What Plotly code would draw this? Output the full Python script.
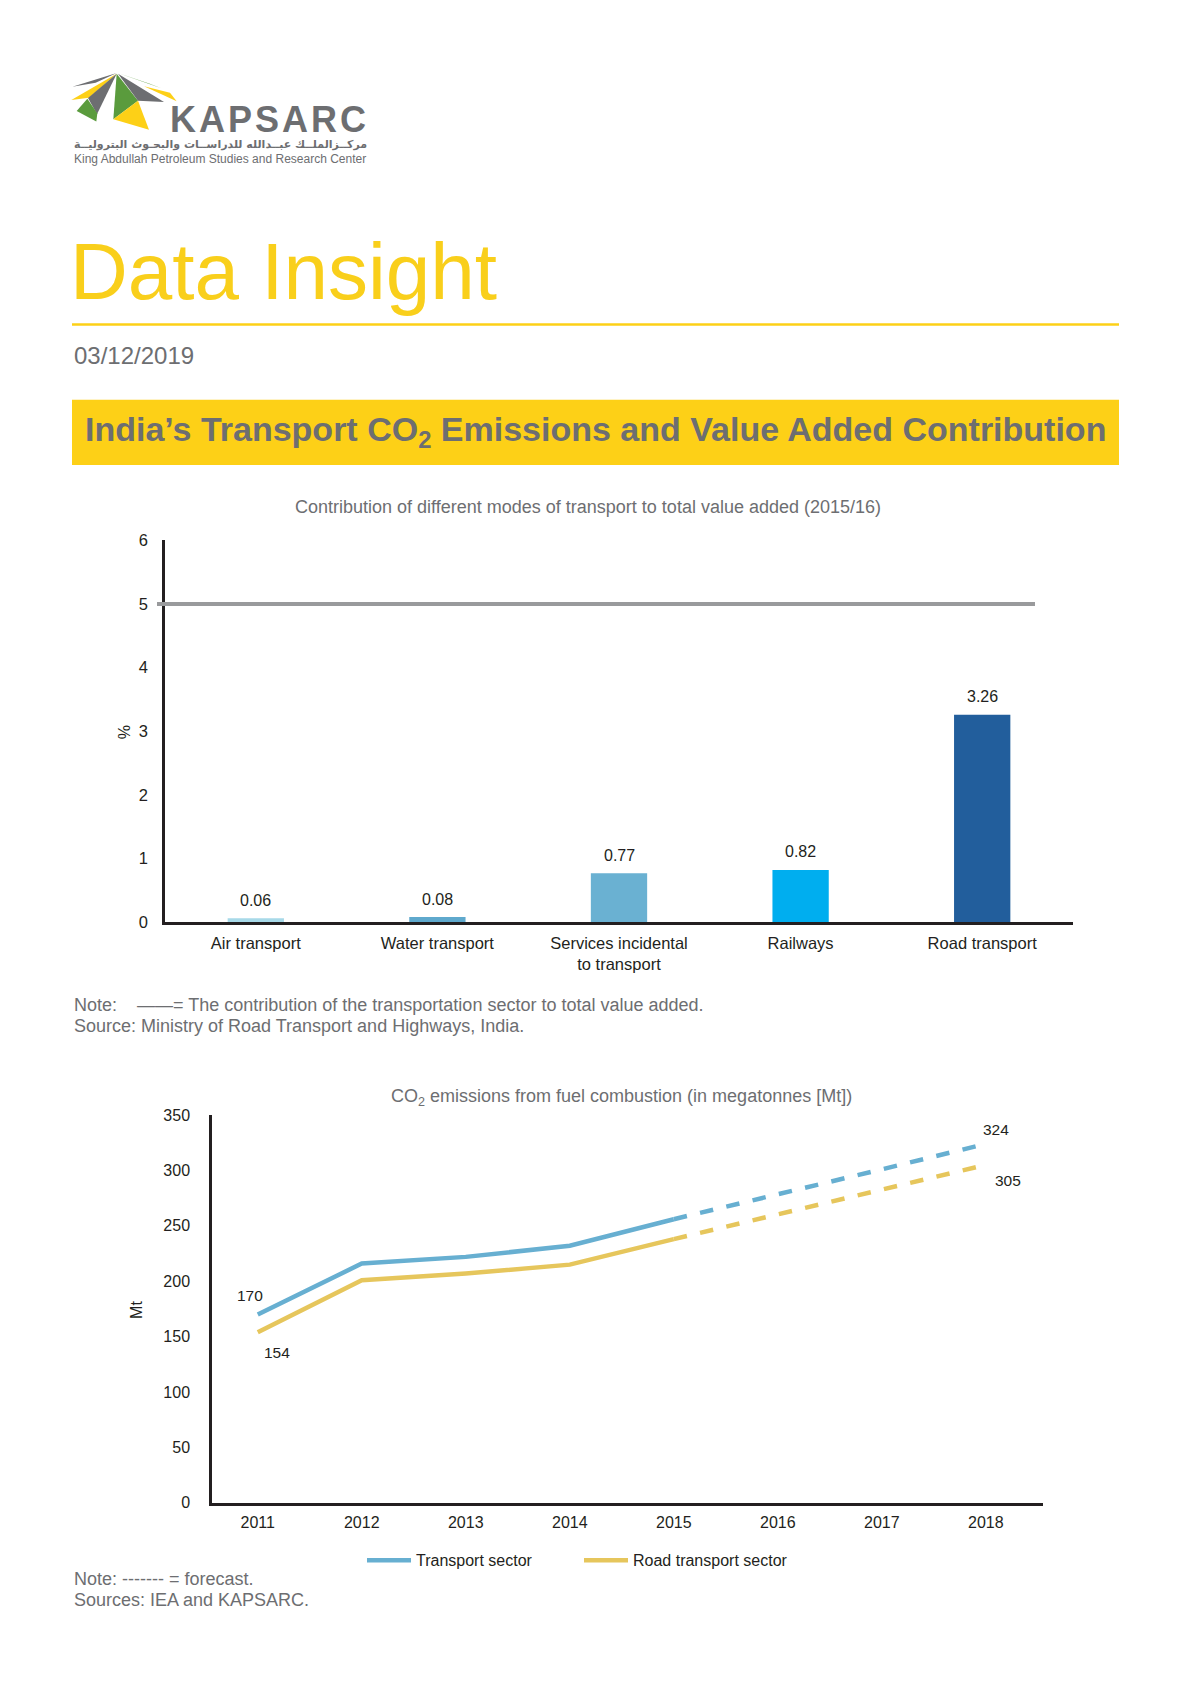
import plotly.graph_objects as go

W, H = 1191, 1684

# top chart data: share of total value added (%), 2015/16
modes = ["Air transport", "Water transport", "Services incidental<br>to transport", "Railways", "Road transport"]
share = [0.06, 0.08, 0.77, 0.82, 3.26]
bar_colors = ["#a7d9e8", "#5fa9cd", "#6ab1d2", "#00aeef", "#225e9c"]
sector_share = 5.0

# bottom chart data: CO2 emissions (Mt)
years = [2011, 2012, 2013, 2014, 2015, 2016, 2017, 2018]
transport_mt = [170, 216, 222, 232, 256, 278, 301, 324]
road_mt = [154, 201, 207, 215, 238, 260, 283, 305]
forecast_from = 2015

GRAY = "#6d6e71"
YELLOW = "#fdd017"
GREEN = "#5a9b3d"
INK = "#231f20"
FONT = "Liberation Sans"


def px(x):
    return x / W


def py(y):
    return 1 - y / H


def logo_path(points):
    # points are in a 3x crop of the logo starting at (65, 58)
    pts = [(px(64 + a / 3), py(58 + b / 3)) for a, b in points]
    return "M " + " L ".join(f"{a:.5f},{b:.5f}" for a, b in pts) + " Z"


logo_parts = [
    ([(158, 20), (25, 62), (95, 50)], GRAY),
    ([(158, 22), (22, 102), (75, 95)], YELLOW),
    ([(158, 22), (72, 96), (99, 145)], GRAY),
    ([(70, 98), (38, 135), (97, 167), (100, 143)], GREEN),
    ([(158, 22), (148, 160), (222, 104)], GREEN),
    ([(148, 160), (255, 192), (222, 104)], YELLOW),
    ([(162, 22), (222, 104), (300, 108)], GRAY),
    ([(162, 20), (292, 66), (255, 52)], GREEN),
    ([(240, 60), (338, 106), (318, 80)], YELLOW),
]

fig = go.Figure()

# bars
fig.add_trace(go.Bar(
    x=modes, y=share, marker=dict(color=bar_colors, line=dict(width=0)),
    xaxis="x", yaxis="y", showlegend=False, hoverinfo="x+y",
))

# lines: solid history + dashed forecast
k = years.index(forecast_from)
for name, vals, col in [("Transport sector", transport_mt, "#67afd1"),
                        ("Road transport sector", road_mt, "#e6c65c")]:
    fig.add_trace(go.Scatter(
        x=years[:k + 1], y=vals[:k + 1], mode="lines", name=name,
        line=dict(color=col, width=4.5), xaxis="x2", yaxis="y2",
    ))
    fig.add_trace(go.Scatter(
        x=years[k:], y=vals[k:], mode="lines", name=name, showlegend=False,
        line=dict(color=col, width=4.5, dash="dash"), xaxis="x2", yaxis="y2",
    ))

shapes = []
for pts, col in logo_parts:
    shapes.append(dict(type="path", path=logo_path(pts), xref="paper", yref="paper",
                       fillcolor=col, line=dict(width=0), layer="above"))
shapes += [
    dict(type="line", xref="paper", yref="paper", x0=px(72), x1=px(1119), y0=py(319), y1=py(319),
         line=dict(color=YELLOW, width=2.5)),
    dict(type="rect", xref="paper", yref="paper", x0=px(72), x1=px(1119), y0=py(395), y1=py(461),
         fillcolor=YELLOW, line=dict(width=0), layer="below"),
    dict(type="line", xref="paper", yref="y", x0=px(157), x1=px(1035), y0=sector_share, y1=sector_share,
         line=dict(color="#999a9c", width=4)),
]

ann = []


def text(x, y, s, size, color=GRAY, anchor="left", family=FONT, **kw):
    ann.append(dict(x=px(x), y=py(y), xref="paper", yref="paper", text=s, showarrow=False,
                    xanchor=anchor, yanchor="middle", font=dict(size=size, color=color, family=family), **kw))


hair = "\u200a"
text(168, 112, "<b>" + hair.join("KAPSARC") + "</b>", 36, GRAY)
text(72, 137, "<b>مركــزالملــك عبــدالله للدراســات والبحـوث البتروليــة</b>", 11, GRAY,
     family="DejaVu Sans")
text(72, 152, "King Abdullah Petroleum Studies and Research Center", 12, GRAY)
text(68, 265, "Data Insight", 80, "#f9cf1b")
text(72, 350, "03/12/2019", 24, GRAY)
text(595, 427, "<b>India’s Transport CO<sub>2</sub> Emissions and Value Added Contribution</b>", 34, GRAY,
     anchor="center")
text(588, 503, "Contribution of different modes of transport to total value added (2015/16)", 18, GRAY,
     anchor="center")
text(124, 731, "%", 16, INK, anchor="center", textangle=-90)
text(72, 1007, "Note:    ——= The contribution of the transportation sector to total value added.", 18, GRAY)
text(72, 1028, "Source: Ministry of Road Transport and Highways, India.", 18, GRAY)
text(621, 1100, "CO<sub>2</sub> emissions from fuel combustion (in megatonnes [Mt])", 18, GRAY, anchor="center")
text(137, 1315, "Mt", 16, INK, anchor="center", textangle=-90)
text(72, 1587, "Note: ------- = forecast.", 18, GRAY)
text(72, 1608, "Sources: IEA and KAPSARC.", 18, GRAY)

# bar value labels
for m, v in zip(modes, share):
    ann.append(dict(x=m, y=v, xref="x", yref="y", text=f"{v:.2f}", showarrow=False, yshift=18,
                    font=dict(size=16, color=INK, family=FONT)))

# end-point labels on the lines
for x, y, dx, dy in [(years[0], transport_mt[0], -8, 19), (years[0], road_mt[0], 19, -20),
                     (years[-1], transport_mt[-1], 10, 14), (years[-1], road_mt[-1], 22, -16)]:
    ann.append(dict(x=x, y=y, xref="x2", yref="y2", text=str(y), showarrow=False, xshift=dx, yshift=dy,
                    font=dict(size=15.5, color=INK, family=FONT)))

axis_common = dict(showgrid=False, zeroline=False, showline=True, linecolor=INK, linewidth=2.5,
                   tickfont=dict(size=16.5, color=INK, family=FONT), ticks="")

fig.update_layout(
    width=W, height=H, margin=dict(l=0, r=0, t=0, b=0),
    paper_bgcolor="white", plot_bgcolor="white",
    font=dict(family=FONT, color=INK),
    bargap=0.69,
    xaxis=dict(domain=[px(165), px(1073)], anchor="y", ticklabelstandoff=4, **axis_common),
    yaxis=dict(domain=[py(923), py(537)], anchor="x", range=[0, 6], dtick=1,
               ticklabelstandoff=11, **axis_common),
    xaxis2=dict(domain=[px(212), px(1043)], anchor="y2", range=[2010.56, 2018.55],
                tickvals=years, ticklabelstandoff=3, **axis_common),
    yaxis2=dict(domain=[py(1510), py(1118)], anchor="x2", range=[0, 350], dtick=50,
                ticklabelstandoff=16, **axis_common),
    legend=dict(orientation="h", x=px(362), xanchor="left", y=py(1568), yanchor="middle",
                font=dict(size=16, color=INK, family=FONT), entrywidth=158, entrywidthmode="pixels",
                itemwidth=44, bgcolor="rgba(0,0,0,0)"),
    shapes=shapes,
    annotations=ann,
)
fig.update_xaxes(tickfont=dict(size=16), selector=dict(anchor="y2"))
fig.update_yaxes(tickfont=dict(size=16), selector=dict(anchor="x2"))

fig.write_html("out.html", config={"displayModeBar": False},
               post_script="document.body.style.margin='0px';")
